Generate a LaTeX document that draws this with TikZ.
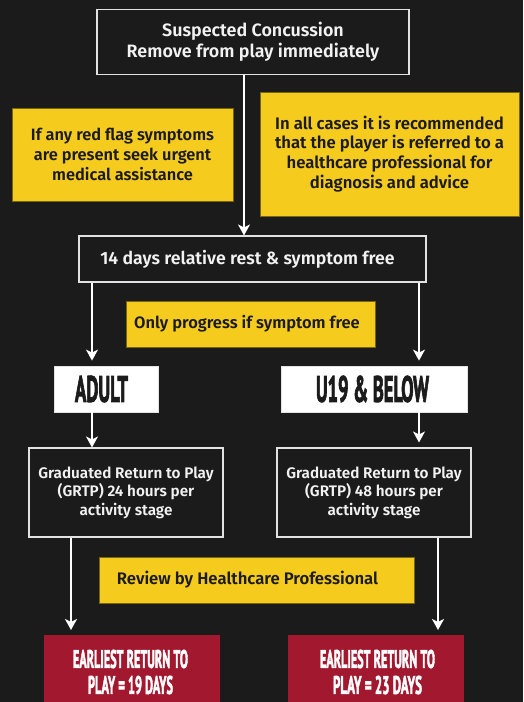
\documentclass[tikz,border=0pt]{standalone}
\usepackage{fontspec}
\usepackage{graphicx}
\setmainfont{Fira Sans}[BoldFont={Fira Sans SemiBold}]
\newfontfamily\condfont{PT Sans}[FakeBold=3]
\usetikzlibrary{arrows.meta,calc}
\definecolor{bg}{HTML}{1B1B1B}
\definecolor{ylw}{HTML}{F5CB1E}
\definecolor{ylwline}{HTML}{7A6512}
\definecolor{redbox}{HTML}{A2192F}
\definecolor{boxline}{HTML}{E2E2E2}
\definecolor{wtxt}{HTML}{F2F2F2}
\newcommand\fitxt[3]{\resizebox{#1}{#2}{\condfont\bfseries #3}}
\tikzset{
  darkbox/.style={draw=boxline, line width=1.1pt, fill=bg, text=wtxt, align=center, inner sep=0pt},
  ylwbox/.style={draw=ylwline, line width=0.6pt, fill=ylw, text=bg, align=center, inner sep=0pt},
  whitebox/.style={draw=boxline, line width=0.8pt, fill=white, text=bg, align=center, inner sep=0pt},
  redbx/.style={fill=redbox, text=white, align=center, inner sep=0pt},
  arr/.style={draw=white, line width=1.6pt, -{Stealth[length=11pt, width=12pt, inset=3pt]}},
  fsz/.style={font=\fontsize{#1}{19.8}\selectfont\bfseries},
}
\begin{document}
\begin{tikzpicture}[x=1pt, y=-1pt]
\fill[bg] (0,0) rectangle (523,702);
\useasboundingbox (0,0) rectangle (523,702);
\clip (0,0) rectangle (523,702);

\node[darkbox, minimum width=312pt, minimum height=65pt, font=\fontsize{17.9}{21}\selectfont\bfseries] (top) at (253,42)
  {Suspected Concussion\\Remove from play immediately};
\node[ylwbox, fsz=16.4, minimum width=221pt, minimum height=93pt] (redflag) at (122.5,154.5)
  {If any red flag symptoms\\are present seek urgent\\medical assistance};
\node[ylwbox, fsz=16.7, minimum width=259pt, minimum height=124pt] (allcases) at (389.5,154)
  {In all cases it is recommended\\that the player is referred to a\\healthcare professional for\\diagnosis and advice};
\node[darkbox, fsz=17.7, minimum width=347pt, minimum height=46pt] (days) at (252.5,259)
  {\hspace*{-10pt}14 days relative rest \& symptom free};
\node[ylwbox, fsz=16.5, minimum width=249pt, minimum height=46pt] (only) at (250.5,324)
  {\hspace*{-7pt}Only progress if symptom free};
\node[whitebox, minimum width=104pt, minimum height=46pt] (adult) at (106,389)
  {\hspace*{-9pt}\fitxt{53pt}{26pt}{ADULT}};
\node[whitebox, minimum width=186pt, minimum height=46pt] (u19) at (374,389)
  {\hspace*{-3pt}\fitxt{113pt}{26pt}{U19 \& BELOW}};
\node[darkbox, font=\fontsize{15.3}{18.6}\selectfont\bfseries, minimum width=194pt, minimum height=89pt] (grtpl) at (126,492.5)
  {Graduated Return to Play\\(GRTP) 24 hours per\\activity stage};
\node[darkbox, font=\fontsize{15.3}{18.6}\selectfont\bfseries, minimum width=194pt, minimum height=89pt] (grtpr) at (374,492.5)
  {Graduated Return to Play\\(GRTP) 48 hours per\\activity stage};
\node[ylwbox, fsz=16.7, minimum width=315pt, minimum height=46pt] (review) at (256.5,580)
  {\hspace*{-18pt}Review by Healthcare Professional};
\node[redbx, minimum width=176pt, minimum height=90pt, anchor=north] (earlyl) at (132,635) {};
\node[redbx, minimum width=176pt, minimum height=90pt, anchor=north] (earlyr) at (376,635) {};
\node[text=white, inner sep=0pt] (earlyl1) at (130.5,659) {\fitxt{115pt}{18pt}{EARLIEST RETURN TO}};
\node[text=white, inner sep=0pt] (earlyl2) at (130.5,685) {\fitxt{85pt}{18pt}{PLAY = 19 DAYS}};
\node[text=white, inner sep=0pt] (earlyr1) at (377.5,659) {\fitxt{115pt}{18pt}{EARLIEST RETURN TO}};
\node[text=white, inner sep=0pt] (earlyr2) at (377.5,685) {\fitxt{89pt}{18pt}{PLAY = 23 DAYS}};

\coordinate (xa) at (244,0);
\coordinate (xb) at (92,0);
\coordinate (xc) at (419,0);
\coordinate (xd) at (71,0);
\coordinate (xe) at (438,0);
\draw[arr] (top.south -| xa) -- (days.north -| xa);
\draw[arr, shorten >=5pt] (days.south -| xb) -- (adult.north -| xb);
\draw[arr, shorten >=5pt] (days.south -| xc) -- (u19.north -| xc);
\draw[arr] (adult.south -| xb) -- (grtpl.north -| xb);
\draw[arr, shorten >=5pt] (u19.south -| xc) -- (grtpr.north -| xc);
\draw[arr, shorten >=5pt] (grtpl.south -| xd) -- (earlyl.north -| xd);
\draw[arr, shorten >=5pt] (grtpr.south -| xe) -- (earlyr.north -| xe);
\end{tikzpicture}
\end{document}
